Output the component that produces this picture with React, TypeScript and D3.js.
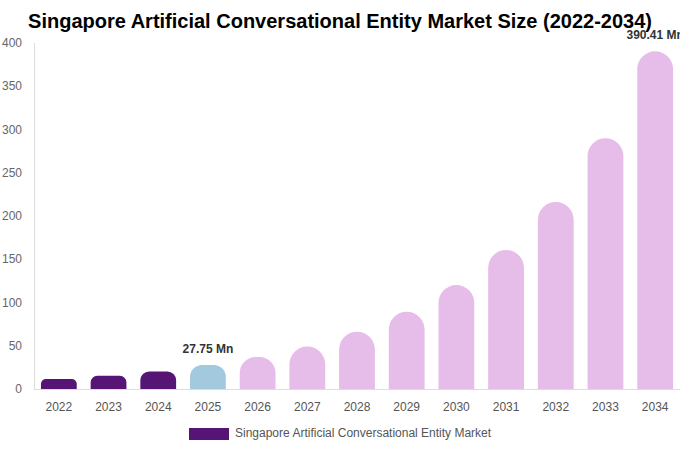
import React from "react";
import * as d3 from "d3";

const years = ["2022", "2023", "2024", "2025", "2026", "2027", "2028", "2029", "2030", "2031", "2032", "2033", "2034"];
const values = [11.5, 15.4, 20.3, 27.75, 37, 49.2, 66.3, 89.4, 120.2, 160.7, 216.2, 290, 390.41];
const kinds = ["past", "past", "past", "current", "future", "future", "future", "future", "future", "future", "future", "future", "future"];
const yTicks = [0, 50, 100, 150, 200, 250, 300, 350, 400];
const labelled = ["2025", "2034"];

const colors: Record<string, string> = { past: "#561574", current: "#a3c9df", future: "#e6bce9" };

const W = 680;
const H = 450;
const plot = { left: 34, right: 680, top: 43, bottom: 389 };
const font = "'Liberation Sans', Arial, sans-serif";

// bar with rounded top corners
function barPath(x: number, y: number, w: number, h: number) {
  const r = Math.min(w / 2, h / 2);
  return `M${x},${y + h}V${y + r}A${r},${r} 0 0 1 ${x + r},${y}H${x + w - r}A${r},${r} 0 0 1 ${x + w},${y + r}V${y + h}Z`;
}

const App = () => {
  const xScale = d3.scaleBand().domain(years).range([plot.left, plot.right]).paddingInner(0.28).paddingOuter(0.14);
  const yScale = d3.scaleLinear().domain([0, 400]).range([plot.bottom, plot.top]);
  const bw = xScale.bandwidth();

  return (
    <svg width={W} height={H} style={{ position: "absolute", left: 0, top: 0 }} fontFamily={font}>
      <rect width={W} height={H} fill="#fff" />
      <text x={340} y={28} textAnchor="middle" fontSize={20} fontWeight="bold" fill="#000">
        Singapore Artificial Conversational Entity Market Size (2022-2034)
      </text>
      {/* y axis */}
      <line x1={plot.left + 0.5} x2={plot.left + 0.5} y1={plot.top} y2={plot.bottom} stroke="#ddd" />
      <line x1={plot.left} x2={plot.right} y1={plot.bottom + 0.5} y2={plot.bottom + 0.5} stroke="#ddd" />
      {yTicks.map((t) => (
        <text key={t} x={22} y={yScale(t) + 4} textAnchor="end" fontSize={12} fill="#666">
          {t}
        </text>
      ))}
      {years.map((yr, i) => {
        const x = xScale(yr)!;
        const y = yScale(values[i]);
        const h = plot.bottom - y;
        return (
          <g key={yr}>
            <path d={barPath(x, y, bw, h)} fill={colors[kinds[i]]} />
            <text x={x + bw / 2} y={411} textAnchor="middle" fontSize={12} fill="#555">
              {yr}
            </text>
            {labelled.includes(yr) && (
              <text x={x + bw / 2} y={y - 12} textAnchor="middle" fontSize={12} fontWeight="bold" fill="#333">
                {values[i]} Mn
              </text>
            )}
          </g>
        );
      })}
      {/* legend */}
      <rect x={189} y={428} width={40} height={12} fill={colors.past} />
      <text x={235} y={437} fontSize={12} fill="#555">
        Singapore Artificial Conversational Entity Market
      </text>
    </svg>
  );
};

export default App;
